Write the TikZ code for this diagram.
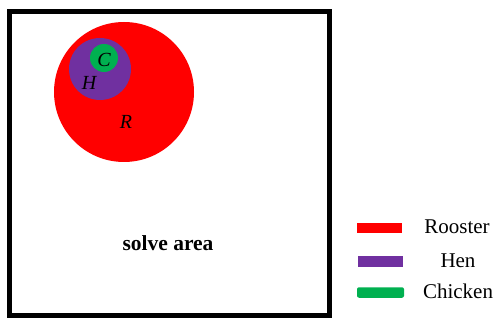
\documentclass[tikz,border=0pt]{standalone}
\usepackage{fontspec}
\setmainfont{Liberation Serif}
\usetikzlibrary{positioning}
\definecolor{rooster}{HTML}{FF0000}
\definecolor{hen}{HTML}{7030A0}
\definecolor{chick}{HTML}{00B050}

\begin{document}
\begin{tikzpicture}[x=1pt,y=-1pt,
  disc/.style={circle,inner sep=0pt,minimum size=#1},
  lab/.style={font=\fontsize{20}{24}\selectfont\itshape,inner sep=0pt},
  keybar/.style={inner sep=0pt,minimum width=45pt,minimum height=10.5pt},
  keytext/.style={font=\fontsize{21}{25}\selectfont,inner sep=0pt}]
  \useasboundingbox (0,0) rectangle (495,320);
  % solve area
  \draw[line width=5pt] (9.5,11.5) rectangle (329.5,315.5);
  \node[font=\fontsize{21.5}{26}\selectfont\bfseries,inner sep=0pt] (area) at (168,243) {solve area};
  % nested populations
  \node[disc=140pt,fill=rooster] (R) at (124,92) {};
  \node[disc=62pt,fill=hen] (H) at (100,69) {};
  \node[disc=28pt,fill=chick] (C) at (104,58) {};
  \node[lab] (Rlab) at (126,122) {R};
  \node[lab] (Hlab) at (89,83) {H};
  \node[lab] (Clab) at (104,60) {C};
  % legend
  \node[keybar,fill=rooster] (kR) at (379.5,228) {};
  \node[keybar,fill=hen] (kH) at (380,261.5) {};
  \node[keybar,fill=chick,rounded corners=2pt,minimum width=47pt] (kC) at (380.5,292.5) {};
  \node[keytext] (tR) at (457,227) {Rooster};
  \node[keytext] (tH) at (458,261) {Hen};
  \node[keytext] (tC) at (458,291) {Chicken};
\end{tikzpicture}
\end{document}
